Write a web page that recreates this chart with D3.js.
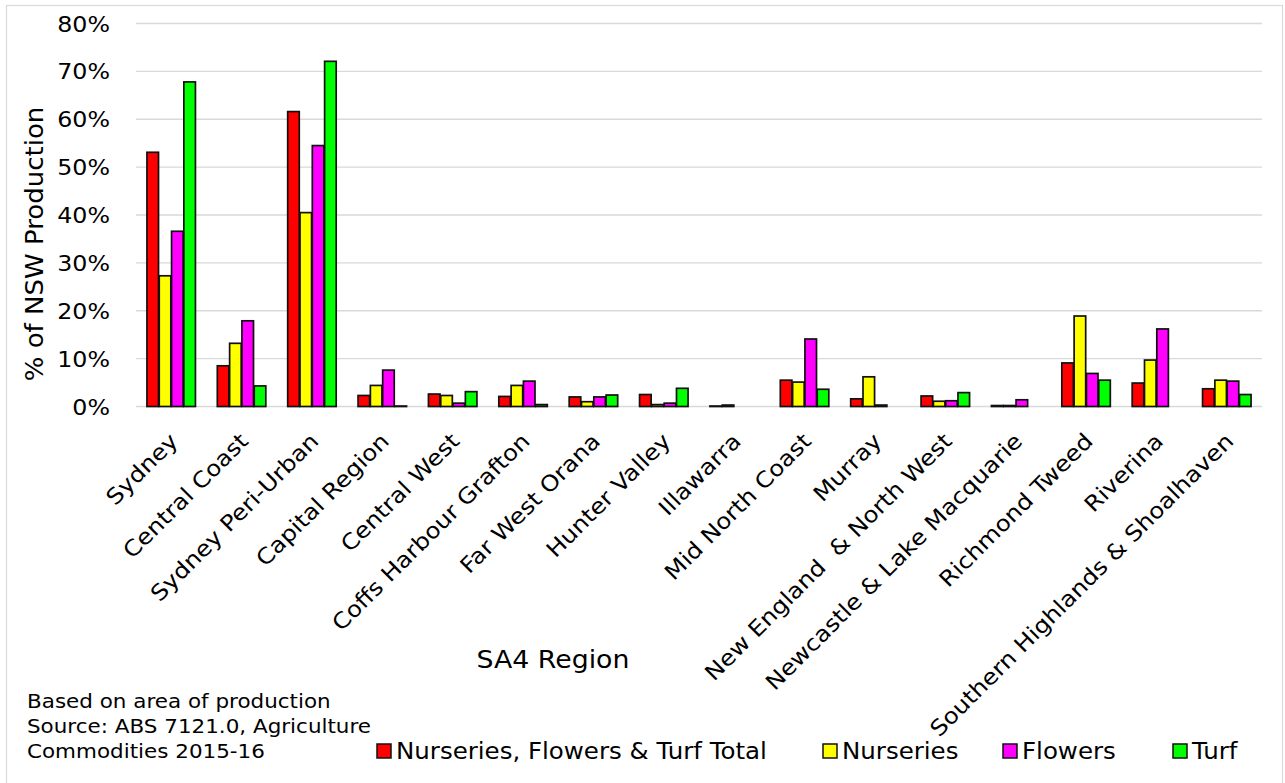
<!DOCTYPE html>
<html>
<head>
<meta charset="utf-8">
<script src="https://cdn.jsdelivr.net/npm/d3@7"></script>
<style>
  html, body { margin: 0; padding: 0; background: #fff; }
  svg { display: block; font-family: "DejaVu Sans", Verdana, sans-serif; }
</style>
</head>
<body>
<svg id="chart" width="1285" height="783"></svg>
<script>
// SA4 regions of NSW
const categories = [
  "Sydney", "Central Coast", "Sydney Peri-Urban", "Capital Region", "Central West",
  "Coffs Harbour Grafton", "Far West Orana", "Hunter Valley", "Illawarra",
  "Mid North Coast", "Murray", "New England  & North West",
  "Newcastle & Lake Macquarie", "Richmond Tweed", "Riverina",
  "Southern Highlands & Shoalhaven"
];

// Share of NSW production (%) by series
const totalValues     = [53.1, 8.5, 61.6, 2.3, 2.6, 2.1, 2.0, 2.5, 0.1, 5.5, 1.6, 2.2, 0.2, 9.1, 4.9, 3.7];
const nurseriesValues = [27.3, 13.2, 40.5, 4.4, 2.3, 4.4, 1.0, 0.4, 0.3, 5.1, 6.2, 1.1, 0.2, 18.9, 9.7, 5.5];
const flowersValues   = [36.6, 17.9, 54.5, 7.6, 0.7, 5.3, 2.0, 0.7, 0.0, 14.1, 0.3, 1.2, 1.4, 6.9, 16.2, 5.3];
const turfValues      = [67.8, 4.3, 72.1, 0.1, 3.1, 0.4, 2.4, 3.8, 0.0, 3.6, 0.0, 2.9, 0.0, 5.5, 0.0, 2.5];

const seriesNames  = ["Nurseries, Flowers & Turf Total", "Nurseries", "Flowers", "Turf"];
const seriesColors = ["#ff0000", "#ffff00", "#ff00ff", "#00ff00"];
const yTicks = [0, 10, 20, 30, 40, 50, 60, 70, 80];

const footnotes = ["Based on area of production", "Source: ABS 7121.0, Agriculture", "Commodities 2015-16"];

const seriesValues = [totalValues, nurseriesValues, flowersValues, turfValues];
const rows = categories.map((c, i) => ({
  region: c,
  values: seriesNames.map((s, j) => ({ series: s, color: seriesColors[j], value: seriesValues[j][i] }))
}));

const FONT = "DejaVu Sans, Verdana, sans-serif";
const svg = d3.select("#chart");

// outer chart frame
svg.append("rect")
  .attr("x", 6.5).attr("y", 5.5).attr("width", 1276).attr("height", 790)
  .attr("fill", "none").attr("stroke", "#d9d9d9").attr("stroke-width", 1.2);

const plot = { left: 136, right: 1262, top: 23.5, bottom: 406.5 };

const y = d3.scaleLinear().domain([0, 80]).range([plot.bottom, plot.top]);
const x0 = d3.scaleBand().domain(categories).range([plot.left, plot.right])
  .paddingInner(0.29).paddingOuter(0.145);
const x1 = d3.scaleBand().domain(seriesNames).range([0, x0.bandwidth()]).padding(0.06);

// horizontal gridlines
svg.append("g").selectAll("line").data(yTicks).join("line")
  .attr("x1", plot.left).attr("x2", plot.right)
  .attr("y1", d => y(d)).attr("y2", d => y(d))
  .attr("stroke", "#d9d9d9").attr("stroke-width", 1.4);

// y axis tick labels (wide lettering)
const yAxis = d3.axisLeft(y).tickValues(yTicks).tickFormat(d => d + "%").tickSize(0).tickPadding(0);
const yg = svg.append("g").attr("transform", `translate(110,0)`).call(yAxis);
yg.select(".domain").remove();
yg.selectAll("text").attr("font-size", 21).attr("fill", "#000")
  .attr("font-family", FONT)
  .attr("x", 0).attr("dy", "0.36em")
  .attr("transform", "scale(1.13,1)");

// bars
const groups = svg.append("g").selectAll("g").data(rows).join("g")
  .attr("transform", d => `translate(${x0(d.region)},0)`);
groups.selectAll("rect").data(d => d.values.filter(v => v.value > 0)).join("rect")
  .attr("x", d => x1(d.series))
  .attr("width", x1.bandwidth())
  .attr("y", d => y(d.value))
  .attr("height", d => y(0) - y(d.value))
  .attr("fill", d => d.color)
  .attr("stroke", "#111")
  .attr("stroke-width", 1.7);

// category labels, rotated
const xAxis = d3.axisBottom(x0).tickSize(0).tickPadding(0);
const xg = svg.append("g").attr("transform", `translate(0,${plot.bottom})`).call(xAxis);
xg.select(".domain").remove();
xg.selectAll("text")
  .attr("font-size", 22).attr("fill", "#000")
  .attr("font-family", FONT)
  .attr("text-anchor", "end")
  .attr("dy", "0.71em")
  .attr("y", 0)
  .attr("style", "white-space: pre")
  .attr("transform", "translate(-3,25) rotate(-45) scale(1.11,1)");

// axis titles
svg.append("text")
  .attr("transform", `translate(43,${(plot.top + plot.bottom) / 2 + 29}) rotate(-90) scale(1.02,1)`)
  .attr("text-anchor", "middle").attr("font-size", 25.5).attr("fill", "#000")
  .text("% of NSW Production");
svg.append("text")
  .attr("transform", "translate(553,668) scale(1.07,1)")
  .attr("text-anchor", "middle").attr("font-size", 25).attr("fill", "#000")
  .text("SA4 Region");

// footnote
svg.append("g").selectAll("text").data(footnotes).join("text")
  .attr("transform", (d, i) => `translate(27,${708 + i * 25}) scale(1.13,1)`)
  .attr("font-size", 19).attr("fill", "#000")
  .text(d => d);

// legend
const legendX = [377, 823, 1003, 1173];
const legend = svg.append("g").selectAll("g").data(seriesNames).join("g")
  .attr("transform", (d, i) => `translate(${legendX[i]},744)`);
legend.append("rect")
  .attr("width", 14).attr("height", 14)
  .attr("fill", (d, i) => seriesColors[i])
  .attr("stroke", "#111").attr("stroke-width", 1.5);
legend.append("text")
  .attr("transform", "translate(19,14.5) scale(1.065,1)")
  .attr("font-size", 23).attr("fill", "#000")
  .text(d => d);
</script>
</body>
</html>
